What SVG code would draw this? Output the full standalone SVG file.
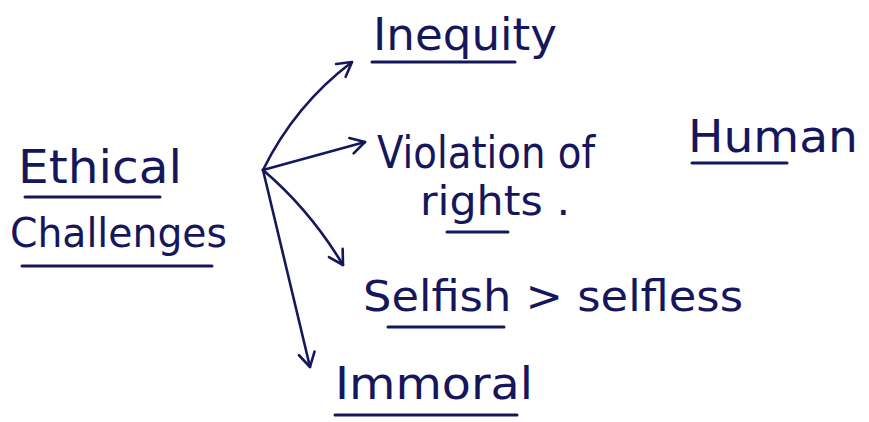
<svg xmlns="http://www.w3.org/2000/svg" width="869" height="422" viewBox="0 0 869 422">
  <style>
    .t { font-family: "DejaVu Sans", "Liberation Sans", sans-serif; fill: #16165c; }
    .ul { stroke: #16165c; stroke-width: 3; stroke-linecap: round; fill: none; }
    .edge { stroke: #16165c; stroke-width: 2.6; fill: none; stroke-linecap: round; }
  </style>
  <defs>
    <marker id="arrow" viewBox="0 0 20 20" refX="18" refY="10" markerWidth="20" markerHeight="20" markerUnits="userSpaceOnUse" orient="auto">
      <path d="M4,2 L18,10 L4,18" fill="none" stroke="#16165c" stroke-width="2.6" stroke-linecap="round" stroke-linejoin="round"/>
    </marker>
  </defs>
  <rect width="869" height="422" fill="#ffffff"/>

  <g id="connectors">
    <path class="edge" d="M263,170 Q295,105 352,62" marker-end="url(#arrow)"/>
    <path class="edge" d="M263,170 L365,142" marker-end="url(#arrow)"/>
    <path class="edge" d="M263,170 Q310,210 343,265" marker-end="url(#arrow)"/>
    <path class="edge" d="M263,170 L310,367" marker-end="url(#arrow)"/>
  </g>

  <g id="ethical-challenges">
    <text class="t" x="18" y="183" font-size="46" textLength="164" lengthAdjust="spacingAndGlyphs">Ethical</text>
    <line class="ul" x1="25" y1="197" x2="160" y2="197"/>
    <text class="t" x="10" y="247" font-size="41" textLength="217" lengthAdjust="spacingAndGlyphs">Challenges</text>
    <line class="ul" x1="22" y1="266" x2="212" y2="266"/>
  </g>

  <g id="inequity">
    <text class="t" x="373" y="50" font-size="44" textLength="184" lengthAdjust="spacingAndGlyphs">Inequity</text>
    <line class="ul" x1="372" y1="62" x2="515" y2="62"/>
  </g>

  <g id="violation">
    <text class="t" x="377" y="168" font-size="44" textLength="218" lengthAdjust="spacingAndGlyphs">Violation of</text>
    <text class="t" x="688" y="152" font-size="44" textLength="170" lengthAdjust="spacingAndGlyphs">Human</text>
    <line class="ul" x1="692" y1="163" x2="787" y2="163"/>
    <text class="t" x="420" y="215" font-size="40" textLength="150" lengthAdjust="spacingAndGlyphs">rights .</text>
    <line class="ul" x1="447" y1="232" x2="508" y2="232"/>
  </g>

  <g id="selfish">
    <text class="t" x="363" y="311" font-size="42" textLength="380" lengthAdjust="spacingAndGlyphs">Selfish &gt; selfless</text>
    <line class="ul" x1="388" y1="327" x2="504" y2="327"/>
  </g>

  <g id="immoral">
    <text class="t" x="335" y="399" font-size="44" textLength="198" lengthAdjust="spacingAndGlyphs">Immoral</text>
    <line class="ul" x1="335" y1="415" x2="517" y2="415"/>
  </g>
</svg>
